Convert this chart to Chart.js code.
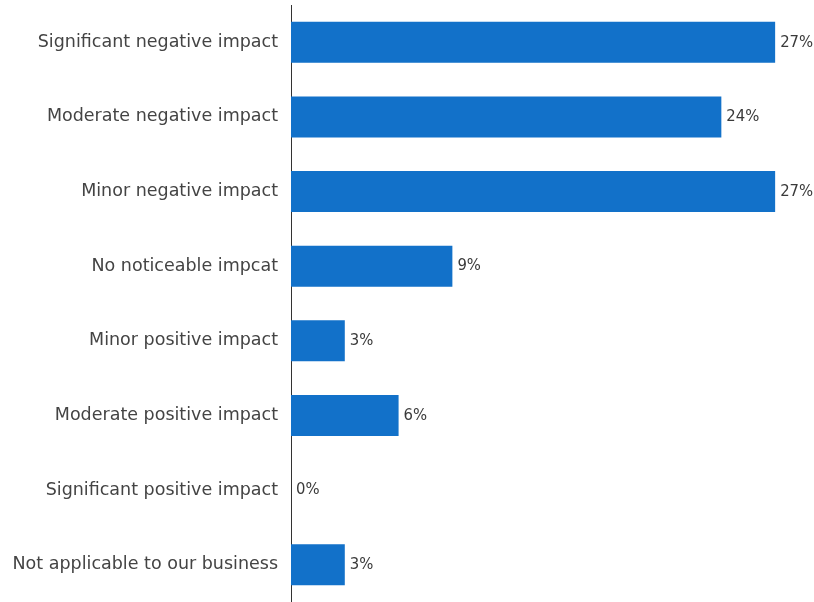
<!DOCTYPE html>
<html>
<head>
<meta charset="utf-8">
<script src="https://cdn.jsdelivr.net/npm/chart.js@4/dist/chart.umd.min.js"></script>
<style>
  html, body { margin: 0; padding: 0; background: #fff; }
  canvas { display: block; }
</style>
</head>
<body>
<canvas id="c" width="814" height="602"></canvas>
<script>
const categories = [
  'Significant negative impact',
  'Moderate negative impact',
  'Minor negative impact',
  'No noticeable impcat',
  'Minor positive impact',
  'Moderate positive impact',
  'Significant positive impact',
  'Not applicable to our business'
];
const shares = [27, 24, 27, 9, 3, 6, 0, 3];

const FONT = '"DejaVu Sans", sans-serif';
const FONT_SIZE = 17.5;
const VALUE_FONT = '16.5px "DejaVu Sans Condensed", "DejaVu Sans", sans-serif';

// Writes the percentage just past the end of each bar
const valueLabels = {
  id: 'valueLabels',
  afterDatasetsDraw(chart) {
    const ctx = chart.ctx;
    const meta = chart.getDatasetMeta(0);
    ctx.save();
    ctx.font = VALUE_FONT;
    ctx.fillStyle = '#3a3a3a';
    ctx.textBaseline = 'middle';
    ctx.textAlign = 'left';
    meta.data.forEach((bar, i) => {
      ctx.fillText(shares[i] + '%', bar.x + 5, bar.y);
    });
    ctx.restore();
  }
};

new Chart(document.getElementById('c'), {
  type: 'bar',
  data: {
    labels: categories,
    datasets: [{
      data: shares,
      backgroundColor: '#1271C9',
      borderWidth: 0,
      categoryPercentage: 1,
      barPercentage: 0.55
    }]
  },
  options: {
    indexAxis: 'y',
    responsive: false,
    animation: false,
    layout: { padding: { top: 5, right: 3, bottom: 0, left: 0 } },
    plugins: { legend: { display: false }, tooltip: { enabled: false } },
    scales: {
      x: { display: false, min: 0, max: 29 },
      y: {
        grid: { display: false, drawTicks: false },
        border: { display: true, color: '#333', width: 1 },
        ticks: {
          color: '#444',
          padding: 13,
          font: { family: FONT, size: FONT_SIZE }
        },
        afterFit(scale) {
          scale.width = 291;
          scale.paddingTop = 0;
          scale.paddingBottom = 0;
        }
      }
    }
  },
  plugins: [valueLabels]
});
</script>
</body>
</html>
